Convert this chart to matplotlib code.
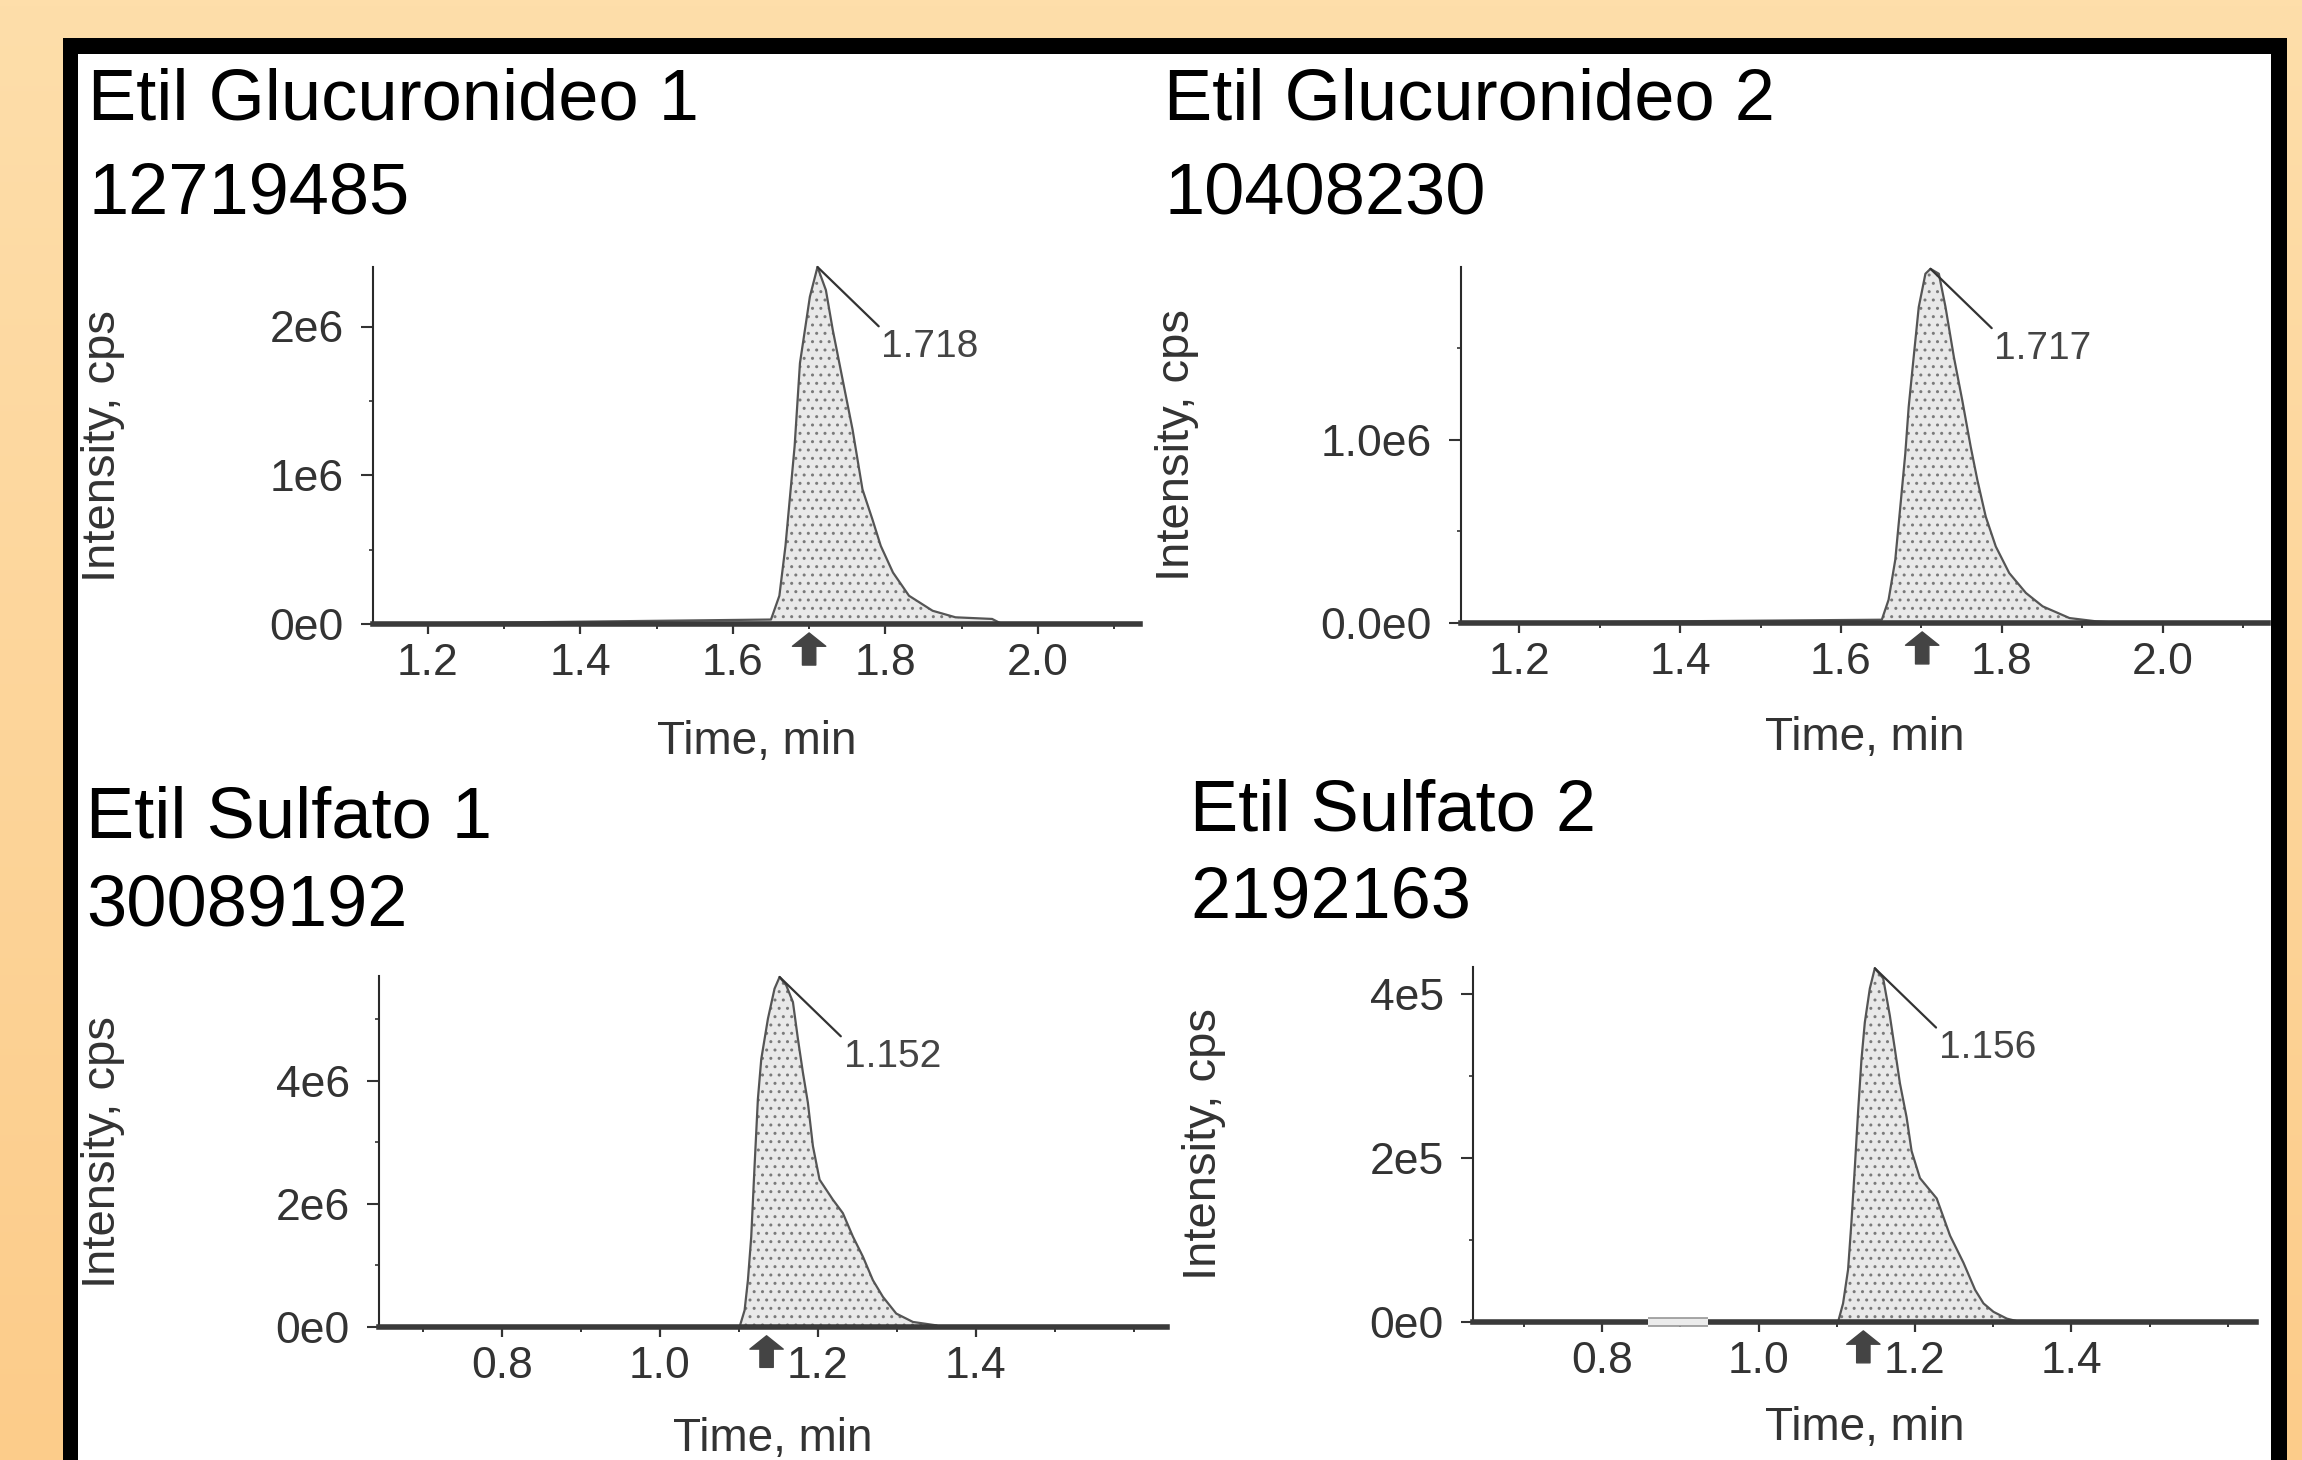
import numpy as np
import matplotlib
matplotlib.use('Agg')
import matplotlib.pyplot as plt
from matplotlib.patches import Rectangle
from matplotlib.ticker import MultipleLocator

plt.rcParams['font.family'] = ['Liberation Sans', 'DejaVu Sans']

# ---- data ----
names = ['Etil Glucuronideo 1', 'Etil Glucuronideo 2', 'Etil Sulfato 1', 'Etil Sulfato 2']
areas = ['12719485', '10408230', '30089192', '2192163']
rt_labels = ['1.718', '1.717', '1.152', '1.156']
arrow_rt = [1.700, 1.701, 1.135, 1.134]

t_eg1 = [1.128, 1.650, 1.661, 1.669, 1.675, 1.681, 1.688, 1.701, 1.711, 1.722, 1.731, 1.744,
         1.757, 1.770, 1.783, 1.794, 1.810, 1.831, 1.862, 1.892, 1.940, 1.953, 2.134]
i_eg1 = [0, 0.03, 0.19, 0.525, 0.86, 1.195, 1.754, 2.20, 2.40, 2.245, 1.978, 1.642,
         1.307, 0.905, 0.704, 0.525, 0.346, 0.19, 0.089, 0.045, 0.034, 0, 0]

t_eg2 = [1.1275, 1.6508, 1.6592, 1.6675, 1.6738, 1.680, 1.6842, 1.6904, 1.6967, 1.705, 1.7113,
         1.7217, 1.730, 1.7404, 1.7508, 1.7613, 1.7696, 1.780, 1.7925, 1.8092, 1.830, 1.8508,
         1.8842, 1.9175, 1.9508, 2.131]
i_eg2 = [0, 0.018, 0.127, 0.345, 0.636, 0.927, 1.181, 1.453, 1.726, 1.908, 1.935,
         1.908, 1.726, 1.453, 1.217, 0.963, 0.781, 0.581, 0.418, 0.273, 0.164, 0.091,
         0.027, 0.009, 0, 0]

t_es1 = [0.6443, 1.1008, 1.1072, 1.1114, 1.1156, 1.1198, 1.124, 1.1283, 1.1367, 1.1451, 1.1515,
         1.1599, 1.1684, 1.1747, 1.181, 1.1873, 1.1937, 1.2021, 1.219, 1.2316, 1.2443, 1.257,
         1.2696, 1.2823, 1.2992, 1.3203, 1.3498, 1.354, 1.642]
i_es1 = [0, 0, 0.272, 0.761, 1.469, 2.611, 3.699, 4.351, 5.004, 5.494, 5.684,
         5.548, 5.276, 4.678, 4.134, 3.644, 2.937, 2.393, 2.067, 1.849, 1.469, 1.142,
         0.761, 0.49, 0.218, 0.082, 0.027, 0, 0]

t_es2 = [0.635, 1.1017, 1.1081, 1.1145, 1.1188, 1.1231, 1.1274, 1.1316, 1.1359, 1.1423, 1.1487,
         1.1594, 1.1679, 1.1744, 1.1808, 1.1893, 1.1957, 1.2064, 1.2278, 1.2449, 1.262, 1.2769,
         1.2876, 1.3004, 1.3175, 1.3346, 1.636]
i_es2 = [0, 0, 0.227, 0.64, 1.218, 1.879, 2.581, 3.2, 3.654, 4.067, 4.315,
         4.191, 3.737, 3.324, 2.911, 2.498, 2.085, 1.755, 1.507, 1.053, 0.723, 0.392,
         0.227, 0.124, 0.041, 0, 0]

series = [(t_eg1, np.array(i_eg1) * 1e6), (t_eg2, np.array(i_eg2) * 1e6),
          (t_es1, np.array(i_es1) * 1e6), (t_es2, np.array(i_es2) * 1e5)]

xlims = [(1.128, 2.134), (1.1275, 2.131), (0.6443, 1.642), (0.635, 1.636)]
ymax = [2.40e6, 1.945e6, 5.70e6, 4.33e5]
xticks_eg = [1.2, 1.4, 1.6, 1.8, 2.0]
xticks_es = [0.8, 1.0, 1.2, 1.4]
xticks = [xticks_eg, xticks_eg, xticks_es, xticks_es]
yticks = [[0, 1e6, 2e6], [0, 1e6], [0, 2e6, 4e6], [0, 2e5, 4e5]]
ytick_labels = [['0e0', '1e6', '2e6'], ['0.0e0', '1.0e6'], ['0e0', '2e6', '4e6'], ['0e0', '2e5', '4e5']]
yminor = [0.5e6, 0.5e6, 1e6, 1e5]
noise_es2 = [0.859, 0.936]   # small light box on the baseline of Etil Sulfato 2

# ---- layout (pixels of the 2302x1460 picture) ----
W, H = 2302, 1460
boxes = [(373, 267, 1140, 624), (1461, 267, 2268, 623),
         (379, 976, 1167, 1327), (1473, 967, 2256, 1322)]
title_pos = [(88, 119, 213), (1164, 119, 213), (86, 837, 925), (1190, 830, 917)]
ylab_x = [-0.352, -0.352, -0.350, -0.343]
xlab_y = [-0.33, -0.323, -0.319, -0.30]

fig = plt.figure(figsize=(W / 100, H / 100), dpi=100)

# background: peach gradient with black frame
bg = fig.add_axes([0, 0, 1, 1], zorder=-10)
grad = np.linspace(0, 1, 256)[:, None]
top_c = np.array([254, 222, 170]) / 255
bot_c = np.array([252, 204, 138]) / 255
img = top_c[None, None, :] * (1 - grad[:, :, None]) + bot_c[None, None, :] * grad[:, :, None]
bg.imshow(img, aspect='auto', extent=[0, 1, 0, 1], origin='upper')
bg.add_patch(Rectangle((63 / W, -0.05), (2287 - 63) / W, 1.05 - 38 / H,
                       facecolor='black', edgecolor='none'))
bg.add_patch(Rectangle((78 / W, -0.05), (2271 - 78) / W, 1.05 - 54 / H,
                       facecolor='white', edgecolor='none'))
bg.set_xlim(0, 1)
bg.set_ylim(0, 1)
bg.axis('off')

for k in range(4):
    l, t, r, b = boxes[k]
    ax = fig.add_axes([l / W, 1 - b / H, (r - l) / W, (b - t) / H])
    ax.patch.set_alpha(0)
    tt, ii = series[k]

    ax.fill_between(tt, 0, ii, facecolor='#e9e9e9', edgecolor='#7a7a7a',
                    hatch='..', linewidth=0, zorder=1)
    ax.plot(tt, ii, color='#555555', lw=1.6, zorder=2, clip_on=False)

    if k == 3:
        ax.plot(noise_es2, [0, 0], color='#9a9a9a', lw=7, solid_capstyle='butt', zorder=3, clip_on=False)
        ax.plot(noise_es2, [0, 0], color='#ececec', lw=4.5, solid_capstyle='butt', zorder=4, clip_on=False)

    ax.set_xlim(*xlims[k])
    ax.set_ylim(0, ymax[k])

    for s in ['top', 'right']:
        ax.spines[s].set_visible(False)
    ax.spines['left'].set_color('#2a2a2a')
    ax.spines['left'].set_linewidth(1.5)
    ax.spines['bottom'].set_color('#3a3a3a')
    ax.spines['bottom'].set_linewidth(4)

    ax.set_xticks(xticks[k])
    ax.set_xticklabels(['%.1f' % v for v in xticks[k]])
    ax.xaxis.set_minor_locator(MultipleLocator(0.1))
    ax.set_yticks(yticks[k])
    ax.set_yticklabels(ytick_labels[k])
    ax.yaxis.set_minor_locator(MultipleLocator(yminor[k]))

    ax.tick_params(axis='x', which='major', length=7, width=1.6, pad=7,
                   labelsize=32, colors='#333333')
    ax.tick_params(axis='x', which='minor', length=3.5, width=1.4, colors='#333333')
    ax.tick_params(axis='y', which='major', length=9, width=1.5, pad=12,
                   labelsize=32, colors='#333333')
    ax.tick_params(axis='y', which='minor', length=3, width=1.2, colors='#333333')

    ax.set_xlabel('Time, min', fontsize=33, color='#333333', va='center')
    ax.xaxis.set_label_coords(0.5, xlab_y[k])
    ax.set_ylabel('Intensity, cps', fontsize=34, color='#333333', va='center')
    ax.yaxis.set_label_coords(ylab_x[k], 0.5)

    # retention time label on apex
    j = int(np.argmax(ii))
    ax.annotate(rt_labels[k], xy=(tt[j], ii[j]), xytext=(64, -62), textcoords='offset pixels',
                ha='left', va='top', fontsize=28, color='#444444',
                arrowprops=dict(arrowstyle='-', color='#333333', lw=1.6,
                                shrinkA=0, shrinkB=0, relpos=(0, 1)))

    # small marker arrow under the axis
    ax.annotate('', xy=(arrow_rt[k], -0.025), xytext=(arrow_rt[k], -0.115),
                xycoords=('data', 'axes fraction'), textcoords=('data', 'axes fraction'),
                arrowprops=dict(arrowstyle='simple,head_length=0.4,head_width=1.0,tail_width=0.4',
                                mutation_scale=24, fc='#444444', ec='#444444',
                                shrinkA=0, shrinkB=0), annotation_clip=False)

    # title and area text
    x0, y1, y2 = title_pos[k]
    fig.text(x0 / W, 1 - y1 / H, names[k], fontsize=52, color='black', va='baseline', ha='left')
    fig.text(x0 / W, 1 - y2 / H, areas[k], fontsize=52, color='black', va='baseline', ha='left')

fig.savefig('out.png', dpi=100)
